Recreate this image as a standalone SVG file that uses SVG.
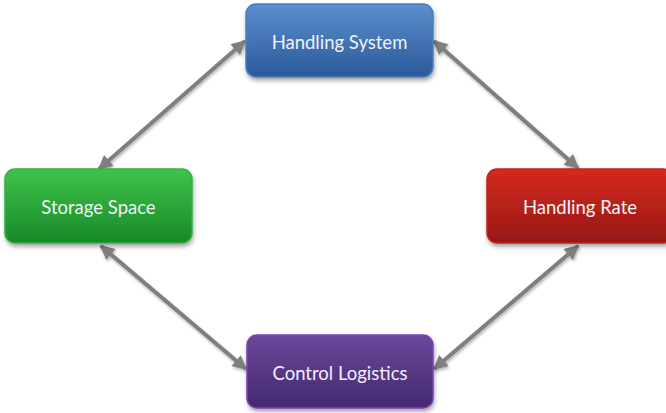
<svg xmlns="http://www.w3.org/2000/svg" width="666" height="413" viewBox="0 0 666 413">
  <style>
    .box { stroke-width: 1.5; filter: url(#shadow); }
    .label { font-family: "Lato", "Open Sans", "Liberation Sans", sans-serif; font-size: 18.5px; fill: #eef2f8; text-anchor: middle; dominant-baseline: central; }
    .link { stroke: #7f7f7f; stroke-width: 4; fill: none; marker-start: url(#head); marker-end: url(#head); filter: url(#lshadow); }
  </style>
  <defs>
    <linearGradient id="gBlue" x1="0" y1="0" x2="0" y2="1">
      <stop offset="0" stop-color="#5b8fd0"/>
      <stop offset="1" stop-color="#2c5998"/>
    </linearGradient>
    <linearGradient id="gGreen" x1="0" y1="0" x2="0" y2="1">
      <stop offset="0" stop-color="#40c24c"/>
      <stop offset="1" stop-color="#178a26"/>
    </linearGradient>
    <linearGradient id="gRed" x1="0" y1="0" x2="0" y2="1">
      <stop offset="0" stop-color="#d42a20"/>
      <stop offset="1" stop-color="#981812"/>
    </linearGradient>
    <linearGradient id="gPurple" x1="0" y1="0" x2="0" y2="1">
      <stop offset="0" stop-color="#6a4899"/>
      <stop offset="1" stop-color="#452872"/>
    </linearGradient>
    <filter id="shadow" x="-10%" y="-10%" width="130%" height="140%">
      <feGaussianBlur in="SourceAlpha" stdDeviation="2"/>
      <feOffset dx="1" dy="3" result="b"/>
      <feComponentTransfer><feFuncA type="linear" slope="0.35"/></feComponentTransfer>
      <feMerge><feMergeNode/><feMergeNode in="SourceGraphic"/></feMerge>
    </filter>
    <filter id="lshadow" x="-20%" y="-20%" width="140%" height="140%">
      <feGaussianBlur in="SourceAlpha" stdDeviation="1.5"/>
      <feOffset dx="1" dy="2" result="b"/>
      <feComponentTransfer><feFuncA type="linear" slope="0.3"/></feComponentTransfer>
      <feMerge><feMergeNode/><feMergeNode in="SourceGraphic"/></feMerge>
    </filter>
    <marker id="head" viewBox="0 0 10 10" refX="9" refY="5" markerWidth="4" markerHeight="3.6" orient="auto-start-reverse" markerUnits="strokeWidth">
      <path d="M0,0 L10,5 L0,10 z" fill="#7f7f7f"/>
    </marker>
  </defs>

  <!-- connectors -->
  <g id="connectors">
    <line class="link" x1="99" y1="169" x2="245" y2="41"/>
    <line class="link" x1="434" y1="41" x2="578" y2="168"/>
    <line class="link" x1="340" y1="79" x2="340" y2="334"/>
    <line class="link" x1="101" y1="246" x2="246" y2="369"/>
    <line class="link" x1="578" y1="246" x2="434" y2="369"/>
  </g>

  <g id="handling-system">
    <rect class="box" x="246" y="4" width="187" height="73" rx="10" fill="url(#gBlue)" stroke="#4a7ec0"/>
    <text class="label" x="339.5" y="42">Handling System</text>
  </g>

  <g id="storage-space">
    <rect class="box" x="5" y="169" width="187" height="74" rx="10" fill="url(#gGreen)" stroke="#34b040"/>
    <text class="label" x="98.5" y="207">Storage Space</text>
  </g>

  <g id="handling-rate">
    <rect class="box" x="487" y="169" width="187" height="74" rx="10" fill="url(#gRed)" stroke="#c2231b"/>
    <text class="label" x="580" y="207">Handling Rate</text>
  </g>

  <g id="control-logistics">
    <rect class="box" x="247" y="335" width="186" height="73" rx="10" fill="url(#gPurple)" stroke="#7e3cbc"/>
    <text class="label" x="340" y="373">Control Logistics</text>
  </g>
</svg>
